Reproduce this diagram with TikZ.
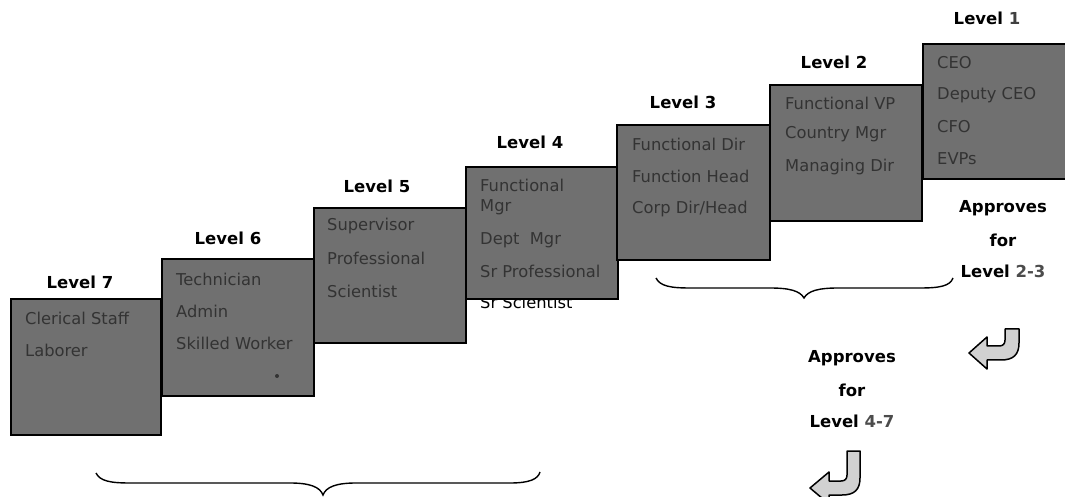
\documentclass[tikz,border=0pt]{standalone}
\usepackage{fontspec}
\setmainfont{DejaVu Sans}
\begin{document}
\begin{tikzpicture}[x=1bp,y=-1bp,
  box/.style={draw=black, line width=1.6bp, fill=black!56, anchor=north west, inner sep=0pt},
  item/.style={anchor=west, inner sep=0pt, text=black!80, font=\fontsize{16.3bp}{18bp}\selectfont},
  lvl/.style={inner sep=0pt, font=\bfseries\fontsize{16.5bp}{18bp}\selectfont},
  note/.style={inner sep=0pt, font=\bfseries\fontsize{16.5bp}{18bp}\selectfont},
  uarrow/.style={draw=black, line width=1.5bp, fill=black!18, line join=round},
  brace/.style={draw=black, line width=1.4bp}]
\useasboundingbox (0,0) rectangle (1065,497);
\clip (0,0) rectangle (1065,497);
\fill[white] (0,0) rectangle (1065,497);

% Level 7
\node[box, minimum width=150bp, minimum height=136bp] (l7) at (10,298) {};
\node[lvl] (t7) at (80,282) {Level 7};
\node[item] (a7) at (25,318) {Clerical Staff};
\node[item] (b7) at (25,350) {Laborer};

% Level 6
\node[box, minimum width=152bp, minimum height=137bp] (l6) at (161,258) {};
\node[lvl] (t6) at (228,238) {Level 6};
\node[item] (a6) at (176,279) {Technician};
\node[item] (b6) at (176,311) {Admin};
\node[item] (c6) at (176,343) {Skilled Worker};
\fill[black!80] (277,376) circle (2bp);

% Level 5
\node[box, minimum width=152bp, minimum height=135bp] (l5) at (313,207) {};
\node[lvl] (t5) at (377,186) {Level 5};
\node[item] (a5) at (327,226) {Supervisor};
\node[item] (b5) at (327,258) {Professional};
\node[item] (c5) at (327,291) {Scientist};

% Level 4
\node[item, text=black] (e4) at (480,302) {Sr Scientist};
\node[box, minimum width=152bp, minimum height=132bp] (l4) at (465,166) {};
\node[lvl] (t4) at (530,142) {Level 4};
\node[item] (a4) at (480,185) {Functional};
\node[item] (b4) at (480,207) {Mgr};
\node[item] (c4) at (480,240) {Dept\ \ Mgr};
\node[item] (d4) at (480,271) {Sr Professional};

% Level 3
\node[box, minimum width=153bp, minimum height=135bp] (l3) at (616,124) {};
\node[lvl] (t3) at (683,102) {Level 3};
\node[item] (a3) at (632,144) {Functional Dir};
\node[item] (b3) at (632,176) {Function Head};
\node[item] (c3) at (632,209) {Corp Dir/Head};

% Level 2
\node[box, minimum width=152bp, minimum height=136bp] (l2) at (769,84) {};
\node[lvl] (t2) at (834,62) {Level 2};
\node[item] (a2) at (785,103) {Functional VP};
\node[item] (b2) at (785,134) {Country Mgr};
\node[item] (c2) at (785,167) {Managing Dir};

% Level 1
\node[box, minimum width=155bp, minimum height=135bp] (l1) at (922,43) {};
\node[lvl] (t1) at (987,18) {Level {\color{black!75}1}};
\node[item] (a1) at (937,63) {CEO};
\node[item] (b1) at (937,95) {Deputy CEO};
\node[item] (c1) at (937,127) {CFO};
\node[item] (d1) at (937,159) {EVPs};

% approval notes
\node[note] (n1) at (1003,208) {Approves};
\node[note] (n2) at (1003,240) {for};
\node[note] (n3) at (1003,271) {Level {\color{black!70}2-3}};
\node[note] (m1) at (852,358) {Approves};
\node[note] (m2) at (852,390) {for};
\node[note] (m3) at (852,421) {Level {\color{black!70}4-7}};

% braces
\draw[brace] (656,278) .. controls (660,286) and (670,288) .. (690,288) -- (770,288)
  .. controls (790,288) and (800,291) .. (804,298)
  .. controls (808,291) and (818,288) .. (838,288) -- (920,288)
  .. controls (940,288) and (950,286) .. (953,278);
\draw[brace] (96,473) .. controls (100,481) and (110,483) .. (130,483) -- (290,483)
  .. controls (310,483) and (320,487) .. (323,495)
  .. controls (326,487) and (336,483) .. (356,483) -- (510,483)
  .. controls (530,483) and (538,479) .. (540,472);

% U-turn arrows
\begin{scope}[shift={(1005,329)}]
\draw[uarrow] (0,0) -- (14,0) -- (14,14) .. controls (14,26) and (8,31) .. (-4,31)
  -- (-18,31) -- (-18,40) -- (-36,24) -- (-18,8) -- (-18,17) -- (-6,17)
  .. controls (-2,17) and (0,15) .. (0,11) -- cycle;
\end{scope}
\begin{scope}[shift={(847,451)}]
\draw[uarrow] (0,0) -- (13,0) -- (13,27) .. controls (13,39) and (7,44) .. (-5,44)
  -- (-18,44) -- (-18,53) -- (-37,37) -- (-18,21) -- (-18,30) -- (-6,30)
  .. controls (-2,30) and (0,28) .. (0,24) -- cycle;
\end{scope}
\end{tikzpicture}
\end{document}
